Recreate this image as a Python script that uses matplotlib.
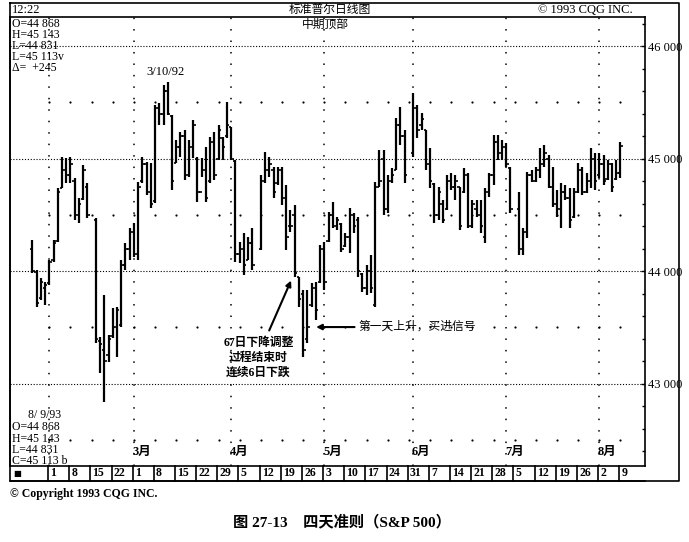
import numpy as np
import pandas as pd
import matplotlib
matplotlib.use('Agg')
import matplotlib.pyplot as plt

plt.rcParams['font.family'] = ['Liberation Serif', 'Noto Sans CJK SC', 'DejaVu Sans']
plt.rcParams['axes.unicode_minus'] = False

# 交易日 (1993-01-26 ~ 1993-08-09), 节假日为 None
dates = pd.bdate_range('1993-01-26', '1993-08-09')

highs = [44276, 44010, 43935, 43905, 44098, 44276, 44735, 45016, 45002, 45016,
         44824, 44646, 44942, 44780, None, 44468, 43416, 43787, 43431, 43668,
         43683, 44098, 44246, 44379, 44424, 44794, 45016, 44972, 44957, 45476,
         45490, 45653, 45683, 45387, 45164, 45239, 45253, 45164, 45342, 45016,
         45001, 45105, 45194, 45239, 45298, 45194, 45505, 45283, 44987, 44261,
         44335, 44305, 44379, None, 44853, 45061, 45016, 44927, 44927, 44927,
         44764, 44542, 44587, 43950, 43831, 43831, 43890, 43905, 44231, 44261,
         44527, 44616, 44483, 44424, 44335, 44557, 44512, 44483, 43979, 44053,
         44142, 44794, 45075, 45075, 44853, 44912, 45357, 45461, 45253, None,
         45579, 45476, 45401, 45253, 45090, 44779, 44750, 44631, 44853, 44868,
         44853, 44750, 44912, 44868, 44631, 44631, 44631, 44735, 44868, 45209,
         45209, 45164, 45135, 44927, None, 44705, 44379, 44883, 44898, 44927,
         45090, 45120, 45031, 44927, 44720, 44779, 44764, 44735, 44735, 44957,
         44927, 44868, 45090, 45046, 45046, 45031, 44987, 44957, 44987, 45143]
lows = [43980, 43683, 43740, 43700, 43876, 44083, 44260, 44735, 44780, 44780,
        44453, 44424, 44631, 44468, None, 43357, 43090, 42838, 43194, 43402,
        43238, 43505, 44009, 44098, 44127, 44098, 44780, 44675, 44557, 44601,
        45298, 45298, 45387, 44720, 44957, 45016, 44809, 44838, 45001, 44616,
        44838, 44616, 44779, 44809, 44987, 44987, 45179, 44987, 44083, 44068,
        43964, 44098, 44009, None, 44187, 44779, 44838, 44646, 44764, 44587,
        44187, 44350, 43950, 43683, 43238, 43357, 43683, 43564, 43890, 43831,
        44261, 44379, 44364, 44172, 44216, 44157, 44335, 43950, 43816, 43787,
        43801, 43683, 44749, 44498, 44513, 44779, 44898, 45120, 44779, None,
        45016, 45179, 45253, 44898, 44735, 44424, 44453, 44424, 44542, 44720,
        44631, 44364, 44690, 44379, 44379, 44483, 44335, 44246, 44661, 44764,
        44987, 44987, 44927, 44513, None, 44142, 44142, 44290, 44794, 44794,
        44824, 44927, 44735, 44572, 44483, 44379, 44631, 44379, 44468, 44690,
        44675, 44690, 44735, 44720, 44824, 44764, 44809, 44705, 44809, 44831]
opens = [44200, 43990, 43760, 43850, 43890, 44100, 44270, 44740, 44900, 44850,
         44800, 44500, 44640, 44750, None, 44450, 43380, 43300, 43250, 43420,
         43500, 43520, 44050, 44200, 44350, 44150, 44800, 44950, 44700, 44620,
         45450, 45400, 45600, 45380, 44960, 45100, 45200, 44850, 45100, 45000,
         44700, 44900, 44800, 45150, 45000, 45180, 45200, 45280, 44980, 44150,
         44200, 44100, 44250, None, 44200, 44800, 44900, 44900, 44780, 44900,
         44650, 44400, 44500, 43950, 43800, 43400, 43700, 43850, 43900, 44200,
         44270, 44500, 44400, 44420, 44220, 44300, 44500, 44450, 43970, 43850,
         44000, 43700, 44750, 45000, 44550, 44800, 44900, 45300, 45200, None,
         45050, 45450, 45300, 45250, 44950, 44770, 44500, 44600, 44550, 44800,
         44750, 44750, 44700, 44850, 44400, 44550, 44500, 44300, 44700, 44850,
         45150, 45050, 45100, 44920, None, 44550, 44200, 44350, 44850, 44800,
         44900, 44950, 45000, 44750, 44600, 44550, 44700, 44650, 44480, 44700,
         44900, 44700, 44800, 45000, 44850, 44950, 44820, 44950, 44820, 44868]
closes = [44000, 43720, 43900, 43880, 44080, 44250, 44700, 44900, 44850, 44950,
          44500, 44600, 44900, 44500, None, 43400, 43350, 43200, 43400, 43500,
          43650, 44050, 44200, 44350, 44150, 44750, 44950, 44700, 44600, 45450,
          45400, 45600, 45400, 44800, 45100, 45200, 44850, 45100, 45300, 44700,
          44900, 44650, 45150, 44850, 45250, 45100, 45300, 45000, 44150, 44200,
          44050, 44250, 44050, None, 44800, 44900, 44950, 44700, 44900, 44650,
          44300, 44400, 43980, 43750, 43300, 43500, 43850, 43650, 44200, 43900,
          44500, 44400, 44450, 44200, 44300, 44500, 44400, 44000, 43850, 44000,
          43850, 44750, 44800, 44550, 44800, 44850, 45300, 45200, 44850, None,
          45450, 45250, 45350, 44950, 44800, 44500, 44700, 44450, 44800, 44750,
          44800, 44400, 44850, 44400, 44600, 44500, 44400, 44700, 44850, 45150,
          45050, 45100, 44950, 44550, None, 44200, 44350, 44850, 44800, 44900,
          44950, 45050, 44750, 44600, 44550, 44700, 44650, 44450, 44700, 44900,
          44700, 44800, 45000, 44800, 44950, 44800, 44950, 44750, 44868, 45113]

price_ticks = [43000, 44000, 45000, 46000]
half_levels = [42500, 43500, 44500, 45500]
month_labels = ['3月', '4月', '5月', '6月', '7月', '8月']
top_info = ['O=44 868', 'H=45 143', 'L=44 831', 'L=45 113v', 'Δ=  +245']
bottom_info = ['O=44 868', 'H=45 143', 'L=44 831', 'C=45 113 b']

def f(v):
    return np.array([np.nan if a is None else a for a in v], dtype=float)

hi, lo, op, cl = f(highs), f(lows), f(opens), f(closes)
x = np.arange(len(dates))
ok = ~np.isnan(hi)

W, H = 689, 542
fig = plt.figure(figsize=(W / 100, H / 100), dpi=100)

# 背景画框（像素坐标）
bg = fig.add_axes([0, 0, 1, 1])
bg.set_xlim(0, W)
bg.set_ylim(H, 0)
bg.axis('off')
bg.plot([10, 679, 679, 10, 10], [3, 3, 481, 481, 3], color='black', lw=1.2)
bg.text(12, 10, '12:22', fontsize=9, va='center')
bg.text(330, 10, '标准普尔日线图', fontsize=8.5, va='center', ha='center')
bg.text(538, 10, '© 1993 CQG INC.', fontsize=9, va='center')
bg.text(10, 494, '© Copyright 1993 CQG INC.', fontsize=8.5, fontweight='bold', va='center')
bg.text(342, 522, '图 27-13    四天准则（S&P 500）', fontsize=11, fontweight='bold',
        va='center', ha='center')
bg.text(12, 18, '\n'.join(top_info), fontsize=8.5, va='top', linespacing=0.9)
bg.text(28, 415, '8/ 9/93', fontsize=8.5, va='center')
bg.text(12, 421.5, '\n'.join(bottom_info), fontsize=8.5, va='top', linespacing=0.9)

# 主图
ax = fig.add_axes([10 / W, (H - 466) / H, 635 / W, 449 / H])
ax.set_facecolor('none')
ax.set_xlim(-5.3, 144.8)
ax.set_ylim(42267, 46258)
for s in ax.spines.values():
    s.set_linewidth(1.2)

# 网格
for p in price_ticks:
    ax.axhline(p, color='black', lw=0.8, ls=(0, (1, 1.6)), zorder=1)
mondays = [i for i, d in enumerate(dates) if d.weekday() == 0]
for p in half_levels:
    ax.scatter(mondays, [p] * len(mondays), s=2.5, color='black', lw=0, zorder=1)
first_days = []
for m in range(2, 9):
    idx = [i for i, d in enumerate(dates) if d.month == m and ok[i]]
    first_days.append(idx[0])
for i in first_days:
    ax.axvline(i, color='black', lw=1.1, ls=(0, (1, 6.5)), zorder=1)
for i, lab in zip(first_days[1:], month_labels):
    ax.text(i - 0.3, 42391, lab, fontsize=9, fontweight='bold', va='center', ha='left')

# 日线 OHLC
ax.vlines(x[ok], lo[ok], hi[ok], color='black', lw=1.6, zorder=3)
ax.hlines(op[ok], x[ok] - 0.55, x[ok], color='black', lw=1.2, zorder=3)
ax.hlines(cl[ok], x[ok], x[ok] + 0.55, color='black', lw=1.2, zorder=3)

# 右侧价格刻度
ax.yaxis.tick_right()
ax.set_yticks(price_ticks)
ax.set_yticklabels([f'{p // 1000} {p % 1000:03d}' for p in price_ticks], fontsize=9)
ax.set_yticks(np.arange(42400, 46258, 200), minor=True)
ax.tick_params(axis='y', which='major', direction='in', length=3, pad=2, width=1)
ax.tick_params(axis='y', which='minor', direction='in', length=2, width=1)
ax.set_xticks([])

# 周标签框
tr = ax.get_xaxis_transform()
bh = -15 / 449
ax.plot([-5.3, 144.8], [bh, bh], transform=tr, color='black', lw=1.2, clip_on=False)
for i in mondays:
    ax.plot([i - 0.3, i - 0.3], [0, bh], transform=tr, color='black', lw=1.2, clip_on=False)
    ax.text(i + 0.2, bh / 2, str(dates[i].day), transform=tr, fontsize=8.5,
            fontweight='bold', va='center', ha='left', clip_on=False)
ax.text(-4.6, bh / 2, '■', transform=tr, fontsize=6, va='center', ha='left',
        family='DejaVu Sans', clip_on=False)

# 注释
ax.text(31.4, 45769, '3/10/92', fontsize=9, ha='center', va='center')
ax.text(69.2, 46187, '中期顶部', fontsize=8.5, ha='center', va='center')
ax.annotate('', xy=(61.4, 43938), xytext=(55.7, 43449),
            arrowprops=dict(arrowstyle='-|>', color='black', lw=1.5, mutation_scale=8))
ax.text(53.4, 43227, '67日下降调整\n过程结束时\n连续6日下跌', fontsize=8.5,
        fontweight='bold', ha='center', va='center', linespacing=1.35)
ax.annotate('', xy=(66.4, 43502), xytext=(76.8, 43502),
            arrowprops=dict(arrowstyle='-|>', color='black', lw=1.5, mutation_scale=8))
ax.text(77.0, 43502, '第一天上升，买进信号', fontsize=8.5, ha='left', va='center')

fig.savefig('out.png', dpi=100)
